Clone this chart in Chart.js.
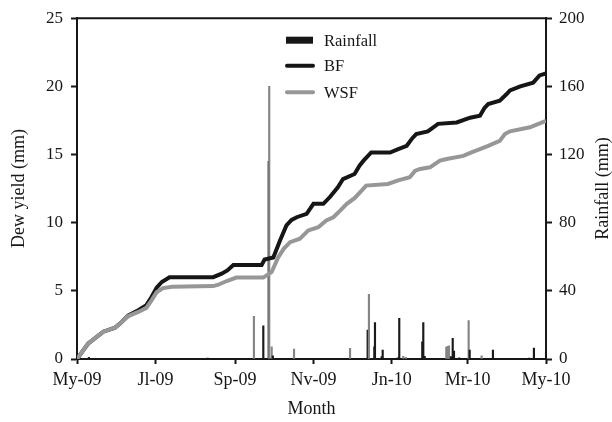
<!DOCTYPE html>
<html>
<head>
<meta charset="utf-8">
<script src="https://cdn.jsdelivr.net/npm/chart.js@4.4.1/dist/chart.umd.min.js"></script>
<style>
  html, body { margin: 0; padding: 0; background: #fff; }
  #wrap { width: 612px; height: 422px; }
</style>
</head>
<body>
<div id="wrap"><canvas id="c" width="612" height="422"></canvas></div>
<script>
// Month ticks (days since 1 May 2009) and their labels
const monthTickDays = [0, 61, 123, 184, 245, 304, 365];
const monthTickLabels = ['My-09', 'Jl-09', 'Sp-09', 'Nv-09', 'Jn-10', 'Mr-10', 'My-10'];

// Cumulative dew yield (mm), BF site
const bfDays = [0, 8.8, 20.5, 29.6, 33.5, 40, 47.7, 54, 58, 62, 66, 72, 106, 112.6, 117, 121.7, 143.7, 146, 152.8, 158, 163, 167, 171, 178.7, 184, 191.7, 197, 203, 207, 216, 220, 223, 229, 243.6, 250, 256.6, 261, 264, 273, 281, 295.5, 306, 313.6, 317, 320, 329, 334, 337, 345, 355, 360, 365];
const bfDew = [0, 1.15, 2.0, 2.3, 2.6, 3.2, 3.58, 3.95, 4.55, 5.24, 5.65, 6.0, 6.0, 6.26, 6.5, 6.9, 6.9, 7.3, 7.45, 8.7, 9.8, 10.2, 10.4, 10.65, 11.38, 11.38, 11.9, 12.6, 13.2, 13.57, 14.2, 14.55, 15.15, 15.15, 15.4, 15.64, 16.2, 16.5, 16.7, 17.25, 17.35, 17.7, 17.85, 18.4, 18.7, 18.95, 19.4, 19.7, 20.0, 20.27, 20.8, 20.95];

// Cumulative dew yield (mm), WSF site
const wsfDays = [0, 8.8, 20.5, 29.6, 33.5, 40, 47.7, 54, 58, 62, 67, 74, 106, 110, 116.5, 124, 145, 151.5, 156.7, 161, 165.8, 173.5, 180, 187.8, 194, 199.5, 205, 210, 216, 221.5, 225, 242, 250, 259, 263, 267, 274.7, 282.5, 287.7, 300.6, 308, 313.6, 320, 329, 333, 337, 352.5, 357.7, 365];
const wsfDew = [0, 1.15, 2.0, 2.3, 2.6, 3.15, 3.45, 3.75, 4.3, 4.9, 5.2, 5.3, 5.35, 5.45, 5.72, 5.97, 5.97, 6.38, 7.48, 8.1, 8.57, 8.82, 9.43, 9.67, 10.16, 10.4, 10.9, 11.38, 11.8, 12.35, 12.72, 12.84, 13.1, 13.33, 13.8, 13.94, 14.06, 14.55, 14.67, 14.9, 15.2, 15.4, 15.64, 16.0, 16.5, 16.7, 17.0, 17.2, 17.47];

// Daily rainfall events (mm)
const rainDays = [9.3, 101.7, 137.7, 145, 149.2, 149.6, 151.5, 152.4, 168.9, 212.5, 226.2, 227.2, 231.4, 231.9, 237.1, 237.9, 249.6, 250.8, 253.9, 256, 268.7, 269.5, 270.6, 287.4, 288.5, 289.5, 291, 292.4, 293.4, 297.5, 304.8, 305.6, 314.9, 323.7, 351.8, 355.6];
const rainMm = [1.0, 0.5, 25.1, 19.5, 116, 160, 7.2, 1.8, 5.8, 6.3, 17, 38, 7.2, 21.4, 1.4, 5.3, 0.7, 23.8, 1.5, 1.0, 10.1, 21.4, 1.6, 7.0, 7.4, 7.8, 1.4, 12.1, 4.7, 0.7, 22.6, 5.3, 1.8, 5.3, 0.5, 6.4];

// Bars drawn in the lighter grey tone (by index into the rainfall lists)
const lightRainBars = new Set([2, 5, 6, 8, 9, 11, 18, 19, 23, 24, 25, 30, 32]);

const SERIF = "'Liberation Serif', 'Times New Roman', serif";
const INK = '#161616';
const BF_COLOR = '#161616';
const WSF_COLOR = '#979797';
const RIGHT_TITLE = 'Rainfall (mm)';

const toXY = (xs, ys) => xs.map((x, i) => ({ x: x, y: ys[i] }));

// Frame line along the top of the plot, the in-plot key and the
// bottom-to-top title of the right-hand axis
const framePlugin = {
  id: 'frameAndKey',
  afterDatasetsDraw(chart) {
    const { ctx, chartArea: a } = chart;
    ctx.save();
    ctx.strokeStyle = INK;
    ctx.lineWidth = 2;
    ctx.beginPath();
    ctx.moveTo(a.left - 1, a.top);
    ctx.lineTo(a.right + 1, a.top);
    ctx.stroke();

    const symX = a.left + 209;
    const txtX = a.left + 247;
    const rows = [a.top + 22, a.top + 47.5, a.top + 74];
    ctx.font = '16.5px ' + SERIF;
    ctx.textBaseline = 'middle';
    ctx.textAlign = 'left';

    chart.data.datasets.forEach((ds, i) => {
      const y = rows[i];
      if (ds.type === 'bar') {
        ctx.fillStyle = INK;
        ctx.fillRect(symX, y - 3.5, 27, 7);
      } else {
        ctx.strokeStyle = ds.borderColor;
        ctx.lineWidth = 4;
        ctx.lineCap = 'round';
        ctx.beginPath();
        ctx.moveTo(symX + 1, y);
        ctx.lineTo(symX + 27, y);
        ctx.stroke();
      }
      ctx.fillStyle = INK;
      ctx.fillText(ds.label, txtX, y + 1);
    });

    // right axis title, reading upwards like the left one
    const r = chart.scales.y1;
    ctx.translate(r.right - 9, (a.top + a.bottom) / 2);
    ctx.rotate(-Math.PI / 2);
    ctx.font = '18px ' + SERIF;
    ctx.textAlign = 'center';
    ctx.textBaseline = 'middle';
    ctx.fillStyle = INK;
    ctx.fillText(RIGHT_TITLE, 0, 0);
    ctx.restore();
  }
};

const axisCommon = {
  grid: { drawOnChartArea: false, drawTicks: true, tickLength: 6, tickWidth: 2, tickColor: INK },
  border: { display: true, color: INK, width: 2 }
};

new Chart(document.getElementById('c'), {
  type: 'line',
  data: {
    datasets: [
      {
        type: 'bar',
        label: 'Rainfall',
        yAxisID: 'y1',
        data: toXY(rainDays, rainMm),
        backgroundColor: (c) => lightRainBars.has(c.dataIndex) ? '#858585' : '#1a1a1a',
        borderWidth: 0,
        barThickness: 1.5,
        order: 3
      },
      {
        label: 'BF',
        yAxisID: 'y',
        data: toXY(bfDays, bfDew),
        borderColor: BF_COLOR,
        borderWidth: 4,
        pointRadius: 0,
        tension: 0,
        fill: false,
        order: 2
      },
      {
        label: 'WSF',
        yAxisID: 'y',
        data: toXY(wsfDays, wsfDew),
        borderColor: WSF_COLOR,
        borderWidth: 4,
        pointRadius: 0,
        tension: 0,
        fill: false,
        order: 1
      }
    ]
  },
  options: {
    responsive: false,
    devicePixelRatio: 1,
    animation: false,
    layout: { padding: { top: 17, left: 0, right: 0, bottom: 0 } },
    plugins: { legend: { display: false }, tooltip: { enabled: false } },
    scales: {
      x: {
        type: 'linear',
        min: 0,
        max: 365,
        offset: false,
        afterBuildTicks: (s) => { s.ticks = monthTickDays.map(v => ({ value: v })); },
        afterFit: (s) => { s.height = 63; },
        ticks: {
          autoSkip: false,
          maxRotation: 0,
          padding: 5,
          color: INK,
          font: { family: SERIF, size: 18 },
          callback: (v, i) => monthTickLabels[i]
        },
        grid: Object.assign({}, axisCommon.grid, { tickLength: 5, offset: false }),
        border: axisCommon.border,
        title: {
          display: true,
          text: 'Month',
          color: INK,
          font: { family: SERIF, size: 18, lineHeight: 1 },
          padding: { top: 0, bottom: 4 }
        }
      },
      y: {
        position: 'left',
        min: 0,
        max: 25,
        afterFit: (s) => { s.width = 77; },
        ticks: { stepSize: 5, padding: 8, color: INK, font: { family: SERIF, size: 17 } },
        grid: axisCommon.grid,
        border: axisCommon.border,
        title: {
          display: true,
          text: 'Dew yield (mm)',
          color: INK,
          font: { family: SERIF, size: 18, lineHeight: 1 },
          padding: { top: 10, bottom: 0 }
        }
      },
      y1: {
        position: 'right',
        min: 0,
        max: 200,
        afterFit: (s) => { s.width = 66; },
        ticks: { stepSize: 40, padding: 7, color: INK, font: { family: SERIF, size: 17 } },
        grid: axisCommon.grid,
        border: axisCommon.border,
        title: { display: false }
      }
    }
  },
  plugins: [framePlugin]
});
</script>
</body>
</html>
